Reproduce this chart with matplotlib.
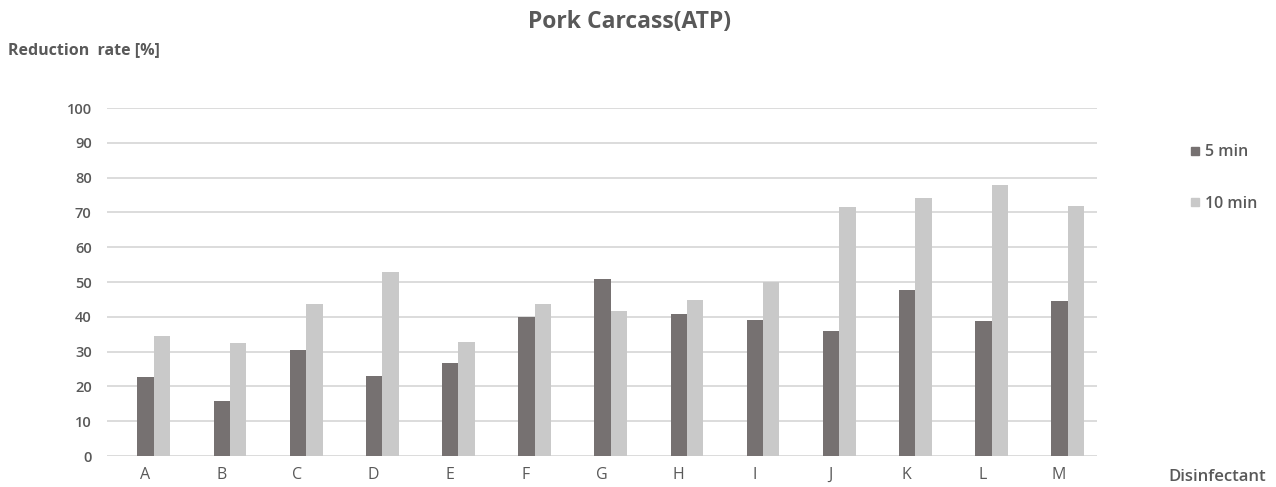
import matplotlib
matplotlib.use("Agg")
import matplotlib.pyplot as plt
import numpy as np
from matplotlib.lines import Line2D

categories = ["A", "B", "C", "D", "E", "F", "G", "H", "I", "J", "K", "L", "M"]
min5 = [22.7, 15.8, 30.5, 23.1, 26.8, 39.8, 51.0, 40.7, 39.2, 35.9, 47.8, 38.9, 44.4]
min10 = [34.6, 32.4, 43.8, 52.8, 32.8, 43.8, 41.6, 44.8, 50.0, 71.5, 74.2, 77.9, 71.9]
yticks = [0, 10, 20, 30, 40, 50, 60, 70, 80, 90, 100]
series_names = ["5 min", "10 min"]

plt.rcParams['font.family'] = ['Open Sans', 'DejaVu Sans']
TXT = "#595959"
C_DARK = "#767171"
C_LIGHT = "#C9C9C9"

fig = plt.figure(figsize=(12.76, 4.87), dpi=100)
ax = fig.add_axes([107/1276, 1-456/487, (1097-107)/1276, (456-108)/487])

x = np.arange(len(categories))
w = 0.215
off = 0.115
ax.bar(x + off - w/2, min5, width=w, color=C_DARK, zorder=3)
ax.bar(x + off + w/2, min10, width=w, color=C_LIGHT, zorder=3)

ax.set_xlim(-0.5, len(categories) - 0.5)
ax.set_ylim(0, 100)
ax.set_yticks(yticks)
ax.set_yticklabels([str(v) for v in yticks], fontsize=10.5, color=TXT, fontweight='semibold')
ax.set_xticks(x)
ax.set_xticklabels(categories, fontsize=11.5, color=TXT)
ax.tick_params(axis='both', length=0)
ax.tick_params(axis='y', pad=11)
ax.tick_params(axis='x', pad=8)
ax.yaxis.grid(True, color="#D9D9D9", linewidth=1.3, zorder=0)
ax.set_axisbelow(True)
for s in ax.spines.values():
    s.set_visible(False)

fig.text(629/1276, 1-22/487, "Pork Carcass(ATP)", ha='center', va='center',
         fontsize=16.5, fontweight='bold', color=TXT)
fig.text(8/1276, 1-50/487, "Reduction  rate [%]", ha='left', va='center',
         fontsize=11.5, fontweight='bold', color=TXT)
fig.text(1266/1276, 1-477/487, "Disinfectant", ha='right', va='center',
         fontsize=12, fontweight='semibold', color=TXT)

handles = [Line2D([0], [0], marker='s', linestyle='none', markersize=6,
                  markerfacecolor=C_DARK, markeredgecolor=C_DARK),
           Line2D([0], [0], marker='s', linestyle='none', markersize=6,
                  markerfacecolor=C_LIGHT, markeredgecolor=C_LIGHT)]
leg = fig.legend(handles, series_names, loc='upper left',
                 bbox_to_anchor=(1173/1276, 1-130/487), frameon=False,
                 labelspacing=2.2, handletextpad=0.1, handlelength=1.0,
                 prop={'size': 11.5, 'weight': 'semibold'})
for t in leg.get_texts():
    t.set_color(TXT)

fig.savefig("out.png", dpi=100)
